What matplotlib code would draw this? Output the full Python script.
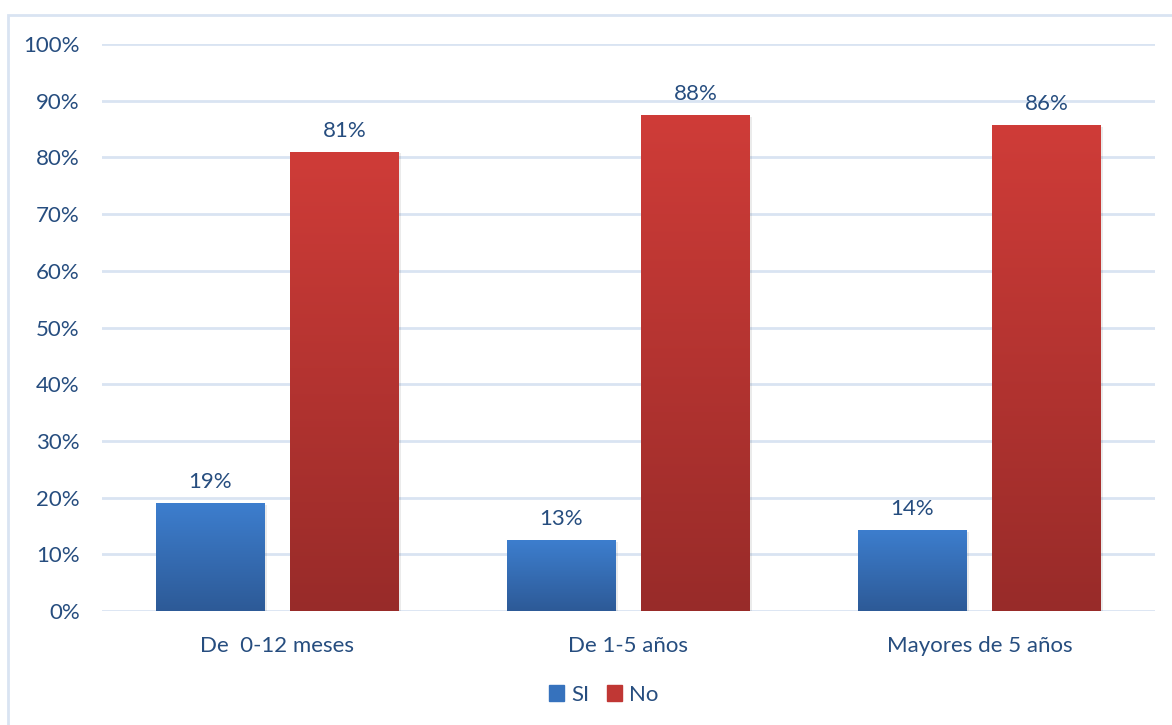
## Respuesta SI / No por grupo de edad

import numpy as np
import matplotlib.pyplot as plt
from matplotlib.colors import LinearSegmentedColormap
from matplotlib.patches import Rectangle

# Datos
categorias = ['De  0-12 meses', 'De 1-5 años', 'Mayores de 5 años']
si = [19.0, 12.5, 14.3]
no = [81.0, 87.5, 85.7]
yticks = [0, 10, 20, 30, 40, 50, 60, 70, 80, 90, 100]

texto = '#264d7f'
rejilla = '#d9e4f2'
fs = 16
plt.rcParams['font.family'] = ['Lato', 'DejaVu Sans']

fig = plt.figure(figsize=(11.72, 7.25), dpi=100)
ax = fig.add_axes([0.087, 0.1572, 0.8985, 0.7821])

# marco exterior del grafico
fig.patches.append(Rectangle((8 / 1172, -0.05), 1.1, 1 - 15 / 725 + 0.05,
                             transform=fig.transFigure, fill=False,
                             edgecolor=rejilla, linewidth=2, clip_on=False))

x = np.arange(len(categorias))
ancho = 0.31
desp = 0.192

azul = LinearSegmentedColormap.from_list('azul', ['#2d5a97', '#3d7ece'])
rojo = LinearSegmentedColormap.from_list('rojo', ['#982b29', '#cf3c38'])
grad = np.linspace(0, 1, 256).reshape(-1, 1)


def barras_degradado(pos, vals, cmap, etiqueta):
    bars = ax.bar(pos, vals, width=ancho, color=cmap(0.5), label=etiqueta,
                  zorder=3)
    for b in bars:
        bx, by = b.get_x(), b.get_y()
        bw, bh = b.get_width(), b.get_height()
        # sombra leve a la derecha
        ax.add_patch(Rectangle((bx + 0.006, by), bw, bh - 0.3,
                               color='#000000', alpha=0.08, zorder=2,
                               linewidth=0))
        img = ax.imshow(grad, cmap=cmap, aspect='auto', origin='lower',
                        extent=[bx, bx + bw, by, by + bh], zorder=3)
        img.set_clip_path(b)
        b.set_facecolor('none')
        b.set_edgecolor('none')
    for b, v in zip(bars, vals):
        ax.annotate('%d%%' % int(v + 0.5),
                    (b.get_x() + b.get_width() / 2, b.get_height()),
                    xytext=(0, 8), textcoords='offset points',
                    ha='center', va='bottom', fontsize=fs, color=texto)
    return bars


barras_degradado(x - desp, si, azul, 'SI')
barras_degradado(x + desp, no, rojo, 'No')

ax.set_xlim(-0.5, len(categorias) - 0.5)
ax.set_ylim(0, 100)
ax.set_yticks(yticks)
ax.set_yticklabels(['%d%%' % t for t in yticks])
ax.set_xticks(x)
ax.set_xticklabels(categorias)
ax.tick_params(axis='both', length=0, labelsize=fs, labelcolor=texto)
ax.tick_params(axis='y', pad=16)
ax.tick_params(axis='x', pad=18)
ax.grid(axis='y', color=rejilla, linewidth=2, zorder=0)
ax.set_axisbelow(True)
for s in ax.spines.values():
    s.set_visible(False)

# leyenda con cuadros de color
h = [Rectangle((0, 0), 1, 1, color='#3672bd'), Rectangle((0, 0), 1, 1, color='#c03734')]
fig.legend(h, ['SI', 'No'], loc='center', bbox_to_anchor=(0.515, 0.042),
           ncol=2, frameon=False, fontsize=fs, labelcolor=texto,
           handlelength=0.7, handleheight=0.7, handletextpad=0.3,
           columnspacing=0.8)

fig.savefig('out.png', dpi=100)
